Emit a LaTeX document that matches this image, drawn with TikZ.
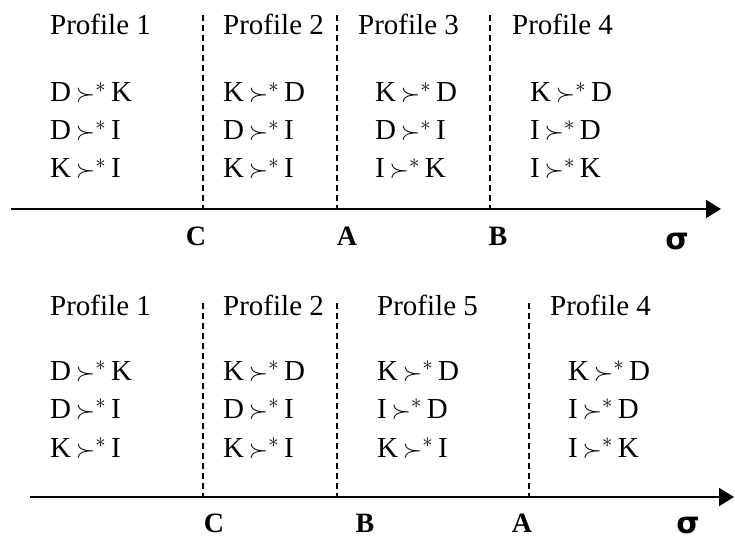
\documentclass[tikz,border=0pt]{standalone}
\usepackage{fontspec}
\setmainfont{Liberation Serif}
\newfontfamily\sigfont{DejaVu Sans}
\usetikzlibrary{arrows.meta}
\newcommand{\pref}[2]{#1\,$\succ^{*}$\,#2}
\begin{document}
\begin{tikzpicture}[x=1pt,y=-1pt,
  txt/.style={anchor=base west,inner sep=0pt,font=\fontsize{29}{32}\selectfont},
  lbl/.style={anchor=base,inner sep=0pt,font=\fontsize{28}{30}\selectfont\bfseries},
  sig/.style={anchor=base,inner sep=0pt,font=\fontsize{30}{32}\selectfont\sigfont\bfseries},
  axis/.style={line width=1.8pt,-{Triangle[length=15pt,width=18pt]}},
  sep/.style={line width=1.1pt,dash pattern=on 6pt off 4pt}]
\useasboundingbox (0,0) rectangle (735,540);
% ---------- top panel ----------
\coordinate (a1s) at (11,209);
\coordinate (a1e) at (721,209);
\draw[axis] (a1s) -- (a1e);
\coordinate (t1) at (203,15); \coordinate (b1) at (203,209);
\coordinate (t2) at (337,15); \coordinate (b2) at (337,209);
\coordinate (t3) at (490,15); \coordinate (b3) at (490,209);
\draw[sep] (t1) -- (b1);
\draw[sep] (t2) -- (b2);
\draw[sep] (t3) -- (b3);
\node[txt] (p11) at (50,35) {Profile 1};
\node[txt] (p12) at (223,35) {Profile 2};
\node[txt] (p13) at (358,35) {Profile 3};
\node[txt] (p14) at (512,35) {Profile 4};
\node[txt] (r111) at (50,102) {\pref{D}{K}};
\node[txt] (r112) at (50,140) {\pref{D}{I}};
\node[txt] (r113) at (50,178) {\pref{K}{I}};
\node[txt] (r121) at (223,102) {\pref{K}{D}};
\node[txt] (r122) at (223,140) {\pref{D}{I}};
\node[txt] (r123) at (223,178) {\pref{K}{I}};
\node[txt] (r131) at (375,102) {\pref{K}{D}};
\node[txt] (r132) at (375,140) {\pref{D}{I}};
\node[txt] (r133) at (375,178) {\pref{I}{K}};
\node[txt] (r141) at (530,102) {\pref{K}{D}};
\node[txt] (r142) at (530,140) {\pref{I}{D}};
\node[txt] (r143) at (530,178) {\pref{I}{K}};
\node[lbl] (c1) at (196,245) {C};
\node[lbl] (aa1) at (347,245) {A};
\node[lbl] (bb1) at (498,245) {B};
\node[sig] (s1) at (677,249) {σ};
% ---------- bottom panel ----------
\coordinate (a2s) at (30,497);
\coordinate (a2e) at (734,497);
\draw[axis] (a2s) -- (a2e);
\coordinate (t4) at (203,303); \coordinate (b4) at (203,497);
\coordinate (t5) at (337,303); \coordinate (b5) at (337,497);
\coordinate (t6) at (529,303); \coordinate (b6) at (529,497);
\draw[sep] (t4) -- (b4);
\draw[sep] (t5) -- (b5);
\draw[sep] (t6) -- (b6);
\node[txt] (p21) at (50,315) {Profile 1};
\node[txt] (p22) at (223,315) {Profile 2};
\node[txt] (p25) at (377,315) {Profile 5};
\node[txt] (p24) at (550,315) {Profile 4};
\node[txt] (r211) at (50,380) {\pref{D}{K}};
\node[txt] (r212) at (50,418) {\pref{D}{I}};
\node[txt] (r213) at (50,457) {\pref{K}{I}};
\node[txt] (r221) at (223,380) {\pref{K}{D}};
\node[txt] (r222) at (223,418) {\pref{D}{I}};
\node[txt] (r223) at (223,457) {\pref{K}{I}};
\node[txt] (r251) at (377,380) {\pref{K}{D}};
\node[txt] (r252) at (377,418) {\pref{I}{D}};
\node[txt] (r253) at (377,457) {\pref{K}{I}};
\node[txt] (r241) at (568,380) {\pref{K}{D}};
\node[txt] (r242) at (568,418) {\pref{I}{D}};
\node[txt] (r243) at (568,457) {\pref{I}{K}};
\node[lbl] (c2) at (214,532) {C};
\node[lbl] (bb2) at (365,532) {B};
\node[lbl] (aa2) at (522,532) {A};
\node[sig] (s2) at (688,533) {σ};
\end{tikzpicture}
\end{document}
